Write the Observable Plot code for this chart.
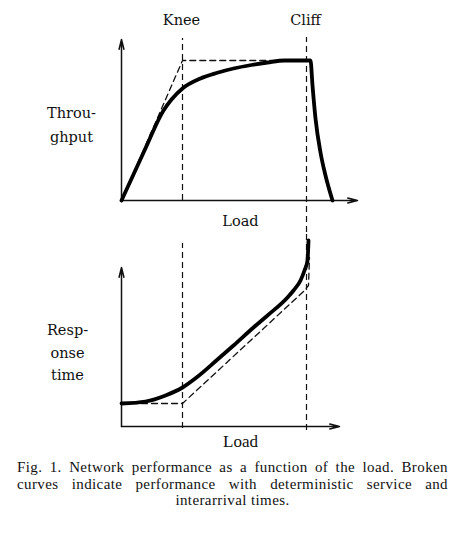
<!DOCTYPE html>
<html><head><meta charset="utf-8">
<script src="https://cdn.jsdelivr.net/npm/d3@7"></script>
<script src="https://cdn.jsdelivr.net/npm/@observablehq/plot@0.6"></script>
<style>
body{margin:0;background:#fff;width:455px}
svg{display:block}
.cap{font-family:"Liberation Serif",serif;font-size:15px;letter-spacing:0.4px;line-height:16.5px;color:#111;margin:7px 0 0 17px;width:431px}
.cap div{white-space:nowrap}
.j{text-align:justify;text-align-last:justify}
.c{text-align:center}
</style></head><body><div id="chart"></div>
<script>
// Throughput panel (solid = stochastic, dashed = deterministic)
const thrLoad   = [0, 2.3, 4.2, 5.0, 6.1, 7.9, 9.5, 11.2, 13.0, 14.6, 16.3, 18.9, 19.1, 19.4, 19.9, 20.4, 21.1];
const thrValue  = [0, 5.0, 9.0, 10.1, 11.2, 12.2, 12.75, 13.2, 13.55, 13.8, 14.0, 14.0, 11.5, 8.2, 4.8, 2.5, 0];
const detThrLoad  = [0, 6.1, 18.5];
const detThrValue = [0, 14.0, 14.0];
// Response time panel
const rspLoad   = [0, 2.4, 4.4, 6.1, 7.5, 9.6, 11.2, 13.2, 14.6, 16.6, 17.2, 17.9, 18.3, 18.6, 18.7];
const rspValue  = [2.3, 2.5, 3.1, 3.9, 4.9, 6.7, 8.1, 9.9, 11.1, 12.9, 13.6, 14.6, 15.6, 16.6, 18.6];
const detRspLoad  = [0, 6.1, 18.2, 18.7, 18.8];
const detRspValue = [2.3, 2.3, 13.5, 14.1, 16.9];
const knee = 6.1, cliff = 18.5;
const kneeLabel = "Knee", cliffLabel = "Cliff", xLabel = "Load";
const thrLabel = ["Throu-", "ghput"];
const rspLabel = ["Resp-", "onse", "time"];
const caption = ["Fig. 1. Network performance as a function of the load. Broken",
                 "curves indicate performance with deterministic service and",
                 "interarrival times."];

const serif = "'DejaVu Serif', serif";
const dash = "6,4";
const common = {width: 455, marginLeft: 121, marginRight: 94, x: {domain: [0, 24], axis: null}};
const txt = {fontFamily: serif, fontSize: 14.5, fill: "#111"};
const axisArrow = {x1: "a", y1: "b", x2: "c", y2: "d", stroke: "#111", strokeWidth: 1.5, headLength: 10, headAngle: 28};

const topPlot = Plot.plot({
  ...common, height: 232, marginTop: 40, marginBottom: 32,
  y: {domain: [0, 16], axis: null},
  style: {fontFamily: serif, fontSize: 14, color: "#111", background: "white", overflow: "visible"},
  marks: [
    Plot.arrow([{a: 0, b: 0, c: 0, d: 16.1}, {a: 0, b: 0, c: 23.6, d: 0}], axisArrow),
    Plot.ruleX([knee], {y1: 0, y2: 16.2, stroke: "#111", strokeWidth: 1.2, strokeDasharray: dash}),
    Plot.ruleX([cliff], {y1: -3.2, y2: 16.3, stroke: "#111", strokeWidth: 1.2, strokeDasharray: dash}),
    Plot.line(detThrLoad, {x: d => d, y: (d, i) => detThrValue[i], stroke: "#111", strokeWidth: 1.3, strokeDasharray: dash}),
    Plot.line(thrLoad, {x: d => d, y: (d, i) => thrValue[i], stroke: "#000", strokeWidth: 3.8, curve: "monotone-x"}),
    Plot.text([kneeLabel], {x: knee - 0.1, y: 18, text: d => d, ...txt}),
    Plot.text([cliffLabel], {x: cliff - 0.1, y: 18, text: d => d, ...txt}),
    Plot.text([xLabel], {x: 11.9, y: -2.1, text: d => d, ...txt}),
    Plot.text(thrLabel, {x: -5.0, y: (d, i) => 8.7 - i * 2.4, text: d => d, ...txt})
  ]
});

const bottomPlot = Plot.plot({
  ...common, height: 220, marginTop: 36, marginBottom: 26,
  y: {domain: [0, 15.8], axis: null},
  style: {fontFamily: serif, fontSize: 14, color: "#111", background: "white", overflow: "visible"},
  marks: [
    Plot.arrow([{a: 0, b: 0, c: 0, d: 15.9}, {a: 0, b: 0, c: 21.8, d: 0}], axisArrow),
    Plot.ruleX([knee], {y1: -0.2, y2: 18.3, stroke: "#111", strokeWidth: 1.2, strokeDasharray: dash}),
    Plot.ruleX([cliff], {y1: -0.4, y2: 19.4, stroke: "#111", strokeWidth: 1.2, strokeDasharray: dash}),
    Plot.line(detRspLoad, {x: d => d, y: (d, i) => detRspValue[i], stroke: "#111", strokeWidth: 1.3, strokeDasharray: dash}),
    Plot.line(rspLoad, {x: d => d, y: (d, i) => rspValue[i], stroke: "#000", strokeWidth: 3.8, curve: "monotone-x"}),
    Plot.text([xLabel], {x: 11.9, y: -1.55, text: d => d, fontFamily: "'Liberation Serif', serif", fontSize: 17, fill: "#111"}),
    Plot.text(rspLabel, {x: -5.4, y: (d, i) => 9.6 - i * 2.25, text: d => d, ...txt})
  ]
});

const root = document.getElementById("chart");
root.append(topPlot, bottomPlot);
const cap = document.createElement("div");
cap.className = "cap";
caption.forEach((line, i) => {
  const el = document.createElement("div");
  el.className = i < caption.length - 1 ? "j" : "c";
  el.textContent = line;
  cap.append(el);
});
root.append(cap);
</script></body></html>
